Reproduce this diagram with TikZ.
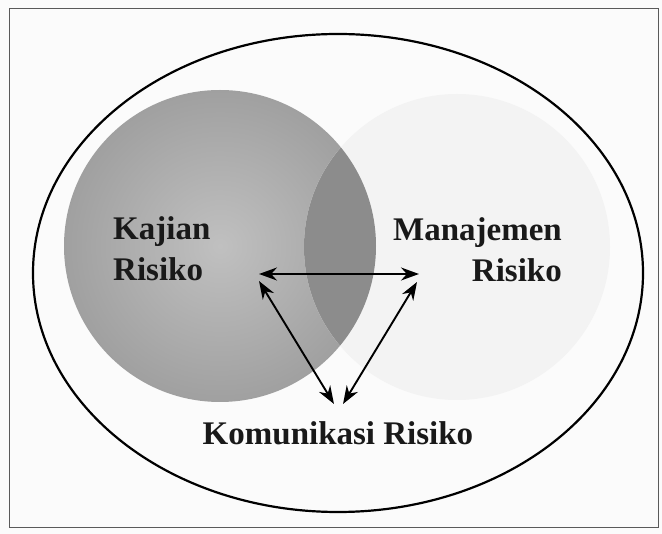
\documentclass[tikz,border=0pt]{standalone}
\usepackage{fontspec}
\setmainfont{Liberation Serif}
\usepackage{tikz}
\usetikzlibrary{arrows.meta,positioning}
\definecolor{PageWhite}{RGB}{251,251,251}
\definecolor{KajianGray}{RGB}{160,160,160}
\definecolor{KajianLight}{RGB}{192,192,192}
\definecolor{ManajemenGray}{RGB}{243,243,243}
\definecolor{OverlapGray}{RGB}{140,140,140}
\definecolor{FrameGray}{RGB}{90,90,90}

\begin{document}
\begin{tikzpicture}[
x=1pt,y=-1pt,
lbl/.style={
font=\fontsize{33}{41}\selectfont\bfseries,
inner sep=0pt,
text=black!90
},
arrow/.style={{Stealth[length=18pt,width=13pt]}-{Stealth[length=18pt,width=13pt]},line width=1.9pt}
]
\useasboundingbox (0,0) rectangle (662,534);
\fill[PageWhite] (0,0) rectangle (662,534);
\draw[FrameGray,line width=0.8pt] (9,8) rectangle (658,527);

% the two overlapping circles
\shade[inner color=KajianLight,outer color=KajianGray] (220,246) circle[radius=156];
\fill[ManajemenGray] (457,247) circle[radius=153];
\begin{scope}
\clip (220,246) circle[radius=156];
\fill[OverlapGray] (457,247) circle[radius=153];
\end{scope}

% outer ellipse
\draw[line width=2.2pt] (338,273) ellipse[x radius=305,y radius=239];

% labels
\node[lbl,align=left,anchor=north west] (kajian) at (113,216) {Kajian\\Risiko};
\node[lbl,align=right,anchor=north east] (manajemen) at (562,217) {Manajemen\\Risiko};
\node[lbl,anchor=base] (komunikasi) at (338,445) {Komunikasi Risiko};

% arrow ends
\coordinate (kaj) at (259,274);
\coordinate (man) at (419,274);
\coordinate (komL) at (334,404);
\coordinate (komR) at (343,404);
\coordinate (kajB) at (259,281);
\coordinate (manB) at (417,282);

\draw[arrow] (kaj) -- (man);
\draw[arrow] (kajB) -- (komL);
\draw[arrow] (manB) -- (komR);
\end{tikzpicture}
\end{document}
